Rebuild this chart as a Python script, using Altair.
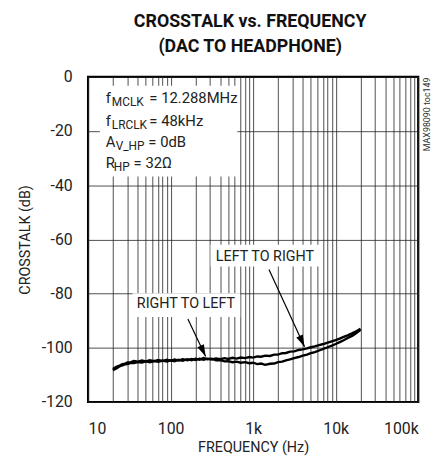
import altair as alt
import pandas as pd

FONT = "Roboto, Liberation Sans, sans-serif"

# ---- data ----
freq = [20, 22, 24, 26, 28, 30, 33, 36, 40, 45, 50, 56, 63, 71, 80, 90, 100, 112, 125, 140,
        160, 180, 200, 225, 250, 280, 315, 355, 400, 450, 500, 560, 630, 710, 800, 900, 1000,
        1120, 1250, 1400, 1600, 1800, 2000, 2250, 2500, 2800, 3150, 3550, 4000, 4500, 5000,
        5600, 6300, 7100, 8000, 9000, 10000, 11200, 12500, 14000, 16000, 18000, 20000]
left_to_right = [-107.8, -107.0, -106.6, -106.0, -105.9, -105.4, -105.3, -104.9, -105.1, -104.7,
                 -105.0, -104.6, -104.9, -104.5, -104.9, -104.4, -104.8, -104.3, -104.7, -104.2,
                 -104.6, -104.1, -104.5, -104.0, -104.4, -104.0, -104.3, -103.9, -104.2, -103.8,
                 -104.1, -103.7, -104.0, -103.6, -103.8, -103.4, -103.6, -103.2, -103.3, -102.9,
                 -103.0, -102.5, -102.5, -102.0, -101.9, -101.4, -101.3, -100.8, -100.6, -100.2,
                 -99.8, -99.5, -99.0, -98.6, -98.1, -97.6, -97.2, -96.6, -96.0, -95.4,
                 -94.6, -93.8, -93.0]
right_to_left = [-108.3, -107.6, -106.9, -106.5, -106.1, -106.0, -105.6, -105.6, -105.3, -105.4,
                 -105.0, -105.3, -104.9, -105.2, -104.7, -105.1, -104.6, -105.0, -104.4, -104.8,
                 -104.2, -104.6, -104.0, -104.4, -103.8, -104.2, -104.0, -104.6, -104.5, -105.0,
                 -104.9, -105.3, -105.1, -105.5, -105.3, -105.7, -105.5, -106.0, -105.8, -106.3,
                 -105.9, -105.8, -105.3, -105.1, -104.6, -104.3, -103.8, -103.4, -102.9, -102.5,
                 -102.0, -101.6, -101.0, -100.4, -99.8, -99.2, -98.6, -97.9, -97.2, -96.4,
                 -95.5, -94.5, -93.4]

x_decades = [10, 100, 1000, 10000, 100000]
x_labels = ["10", "100", "1k", "10k", "100k"]
x_grid = [d * k for d in [10, 100, 1000, 10000] for k in range(1, 10)] + [100000]
y_ticks = [-120, -100, -80, -60, -40, -20, 0]

title_line1 = "CROSSTALK vs. FREQUENCY"
title_line2 = "(DAC TO HEADPHONE)"

# annotation: conditions box
cond_main_text = ["f", "= 12.288MHz", "f", "= 48kHz", "A", "= 0dB", "R", "= 32Ω"]
cond_main_f = [16.4, 55.3, 16.4, 55.3, 16.4, 53.8, 16.4, 35.6]
cond_main_db = [-8.0, -8.0, -16.4, -16.4, -24.1, -24.1, -31.7, -31.7]
cond_sub_text = ["MCLK", "LRCLK", "V_HP", "HP"]
cond_sub_f = [19.4, 19.4, 21.6, 20.5]
cond_sub_db = [-8.0, -16.4, -24.1, -31.7]

# white boxes behind texts
box_f1 = [13.9, 305, 34.6]
box_f2 = [643, 6339, 698]
box_db1 = [-3.3, -62.0, -79.9]
box_db2 = [-36.8, -70.0, -88.6]

label_text = ["LEFT TO RIGHT", "RIGHT TO LEFT"]
label_f = [1393, 153.5]
label_db = [-66.4, -83.9]

arrow_f1 = [1556, 162]
arrow_db1 = [-71.1, -89.4]
arrow_f2 = [4198, 266]
arrow_db2 = [-99.6, -103.2]
arrow_angle = [155, 155]

W, H = 334, 329

curves = pd.DataFrame({
    "f": freq * 2,
    "db": left_to_right + right_to_left,
    "s": ["L2R"] * len(freq) + ["R2L"] * len(freq),
})

xs = alt.Scale(type="log", domain=[10, 100000], nice=False)
ys = alt.Scale(domain=[-120, 0], nice=False)

label_expr = "".join(
    f"datum.value == {v} ? '{t}' : " for v, t in zip(x_decades, x_labels)
) + "''"

x_axis = alt.Axis(values=x_grid, labelExpr=label_expr, grid=True, gridColor="#222",
                  gridWidth=0.8, gridOpacity=1, ticks=False, tickSize=0, domain=False,
                  labelOverlap=False, labelFont=FONT, labelFontSize=16, labelColor="#222",
                  labelPadding=19, title="FREQUENCY (Hz)", titleFont=FONT,
                  titleFontSize=14.5, titleFontWeight="normal", titleColor="#222",
                  titlePadding=4)
y_axis = alt.Axis(values=y_ticks, labelExpr="'' + datum.value", grid=True, gridColor="#222",
                  gridWidth=0.8, gridOpacity=1, ticks=False, tickSize=0, domain=False,
                  labelFont=FONT, labelFontSize=16, labelColor="#222", labelPadding=16,
                  title="CROSSTALK (dB)", titleFont=FONT, titleFontSize=14.5,
                  titleFontWeight="normal", titleColor="#222", titlePadding=9)

base = alt.Chart(curves).encode(
    x=alt.X("f:Q", scale=xs, axis=x_axis),
    y=alt.Y("db:Q", scale=ys, axis=y_axis),
)

lines = base.mark_line(color="black", strokeWidth=2.4, clip=True).encode(detail="s:N")

boxes = alt.Chart(pd.DataFrame({"f1": box_f1, "f2": box_f2, "d1": box_db1, "d2": box_db2})).mark_rect(
    color="white").encode(x=alt.X("f1:Q", scale=xs), x2="f2:Q",
                          y=alt.Y("d1:Q", scale=ys), y2="d2:Q")

cond_main = alt.Chart(pd.DataFrame({"t": cond_main_text, "f": cond_main_f, "d": cond_main_db})).mark_text(
    font=FONT, fontSize=15, align="left", baseline="middle", color="#222").encode(
    x=alt.X("f:Q", scale=xs), y=alt.Y("d:Q", scale=ys), text="t:N")
cond_sub = alt.Chart(pd.DataFrame({"t": cond_sub_text, "f": cond_sub_f, "d": cond_sub_db})).mark_text(
    font=FONT, fontSize=12, align="left", baseline="middle", dy=4, color="#222").encode(
    x=alt.X("f:Q", scale=xs), y=alt.Y("d:Q", scale=ys), text="t:N")

labels = alt.Chart(pd.DataFrame({"t": label_text, "f": label_f, "d": label_db})).mark_text(
    font=FONT, fontSize=14.5, align="center", baseline="middle", color="#222").encode(
    x=alt.X("f:Q", scale=xs), y=alt.Y("d:Q", scale=ys), text="t:N")

arrows_df = pd.DataFrame({"f1": arrow_f1, "d1": arrow_db1, "f2": arrow_f2, "d2": arrow_db2,
                          "a": arrow_angle})
arrow_lines = alt.Chart(arrows_df).mark_rule(color="black", strokeWidth=1.2).encode(
    x=alt.X("f1:Q", scale=xs), x2="f2:Q", y=alt.Y("d1:Q", scale=ys), y2="d2:Q")
arrow_heads = alt.Chart(arrows_df).mark_point(
    shape="M0,0 L-0.3,1 L0.3,1 Z", size=576, filled=True, color="black", opacity=1,
    strokeWidth=0).encode(
    x=alt.X("f2:Q", scale=xs), y=alt.Y("d2:Q", scale=ys), angle=alt.Angle("a:Q", scale=None))

title1 = alt.Chart(pd.DataFrame({"t": [title_line1]})).mark_text(
    font=FONT, fontSize=18, fontWeight="bold", align="center", baseline="middle",
    color="#111").encode(x=alt.value(W / 2 - 3), y=alt.value(-55), text="t:N")
title2 = alt.Chart(pd.DataFrame({"t": [title_line2]})).mark_text(
    font=FONT, fontSize=18, fontWeight="bold", align="center", baseline="middle",
    color="#111").encode(x=alt.value(W / 2 - 3), y=alt.value(-30), text="t:N")

watermark = alt.Chart(pd.DataFrame({"t": ["MAX98090 toc149"]})).mark_text(
    font=FONT, fontSize=9, angle=270, align="center", baseline="middle", color="#333").encode(
    x=alt.value(W + 9), y=alt.value(38), text="t:N")

chart = alt.layer(lines, boxes, cond_main, cond_sub, labels, arrow_lines, arrow_heads,
                  title1, title2, watermark).properties(
    width=W, height=H,
    autosize=alt.AutoSizeParams(type="none"),
    padding={"left": 81, "top": 67, "right": 16, "bottom": 52},
).configure_view(stroke="black", strokeWidth=2.2)

chart.save("out.html", embed_options={"renderer": "svg", "actions": False})
